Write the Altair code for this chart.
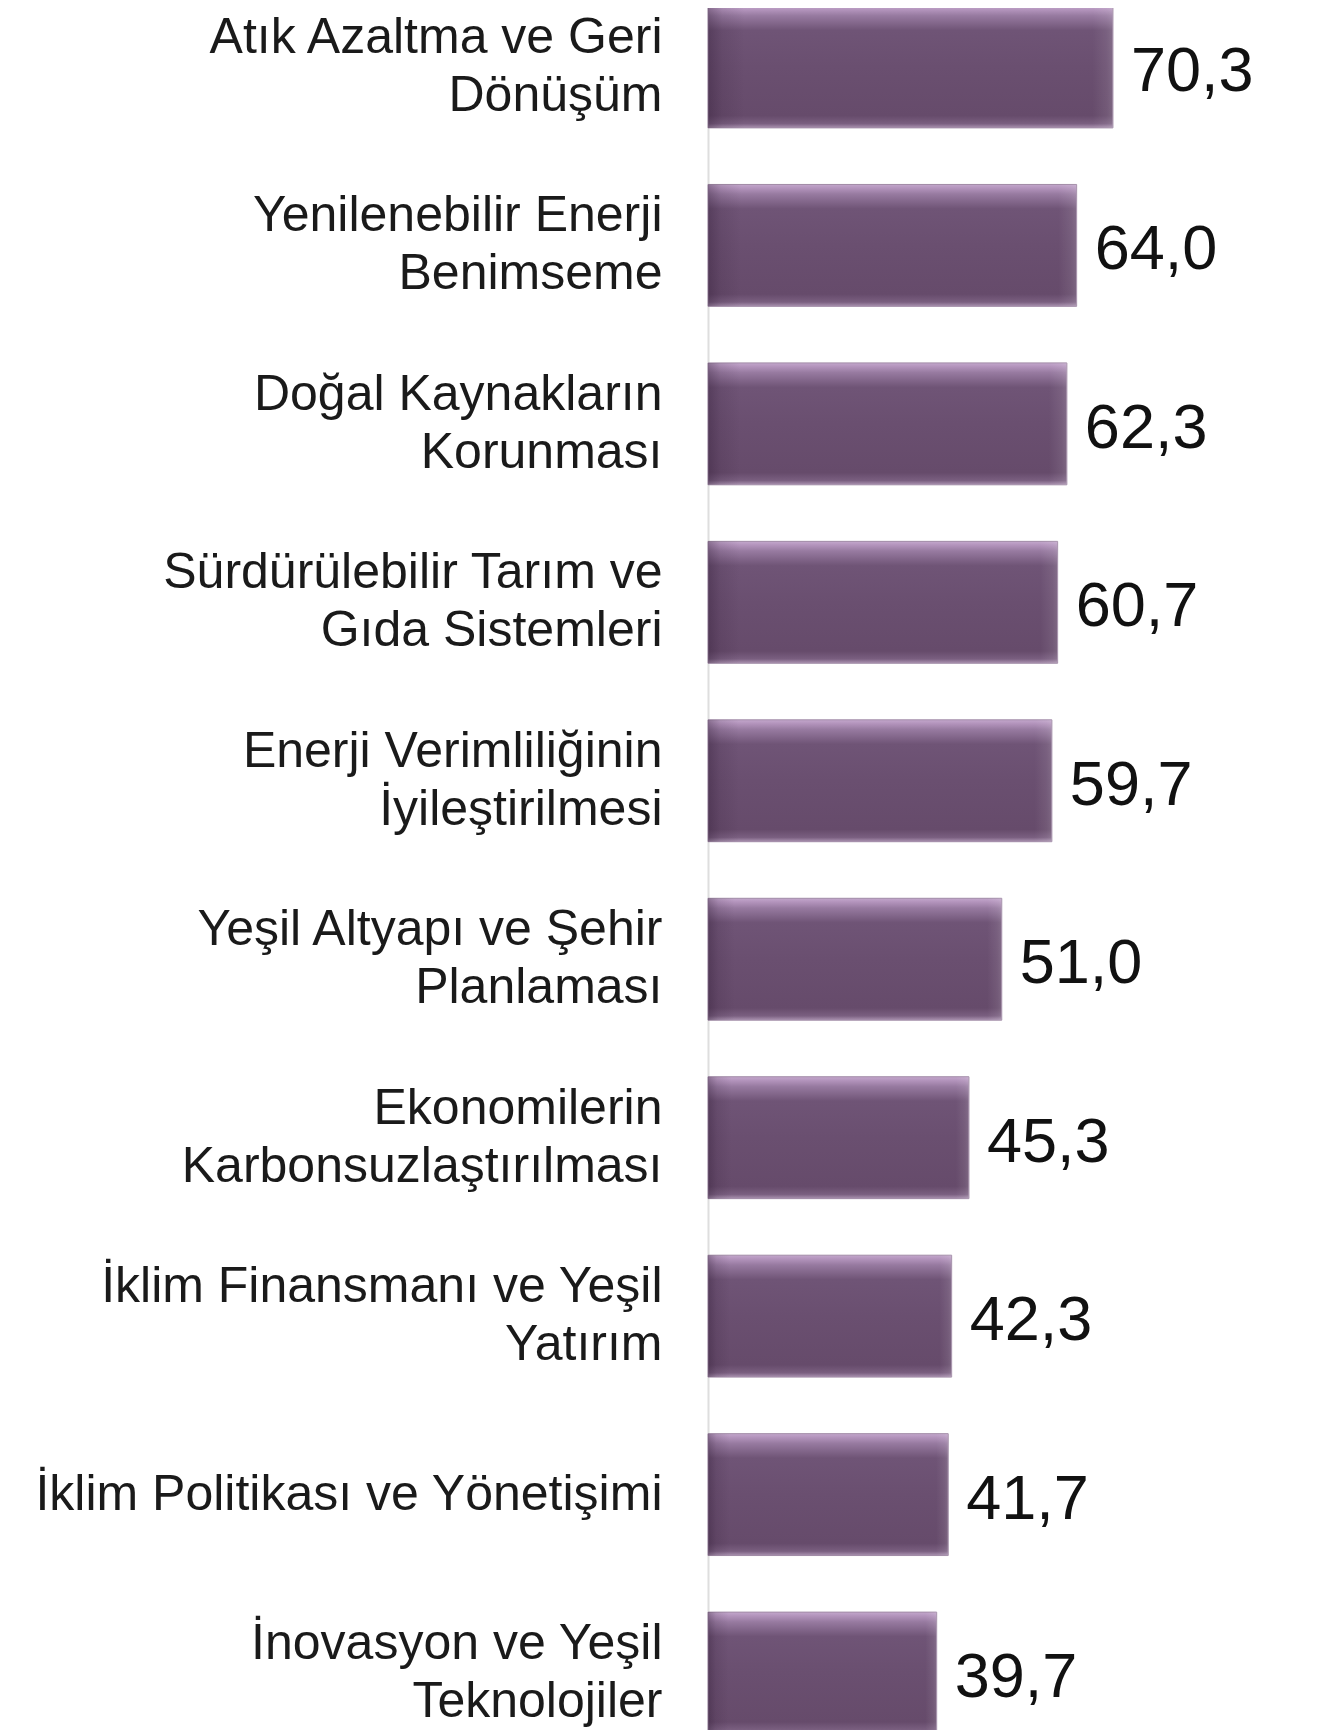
import altair as alt
import pandas as pd

categories = [
    "Atık Azaltma ve Geri|Dönüşüm",
    "Yenilenebilir Enerji|Benimseme",
    "Doğal Kaynakların|Korunması",
    "Sürdürülebilir Tarım ve|Gıda Sistemleri",
    "Enerji Verimliliğinin|İyileştirilmesi",
    "Yeşil Altyapı ve Şehir|Planlaması",
    "Ekonomilerin|Karbonsuzlaştırılması",
    "İklim Finansmanı ve Yeşil|Yatırım",
    "İklim Politikası ve Yönetişimi",
    "İnovasyon ve Yeşil|Teknolojiler",
]
values = [70.3, 64.0, 62.3, 60.7, 59.7, 51.0, 45.3, 42.3, 41.7, 39.7]

df = pd.DataFrame({"cat": categories, "value": values})

FONT = "Liberation Sans"

y_enc = alt.Y(
    "cat:N",
    sort=categories,
    title=None,
    scale=alt.Scale(paddingInner=0.317, paddingOuter=0),
    axis=alt.Axis(
        labelExpr="split(datum.value, '|')",
        labelFont=FONT,
        labelFontSize=50,
        labelLineHeight=58,
        labelColor="#1a1a1a",
        labelPadding=46,
        labelLimit=800,
        labelAlign="right",
        labelBaseline="middle",
        labelOffset={"condition": {"test": "indexof(datum.value, '|') >= 0", "value": -29}, "value": 0},
        ticks=False,
        domainColor="#dedede",
        domainWidth=2,
    ),
)
x_enc = alt.X("value:Q", scale=alt.Scale(domain=[0, 100]), axis=None)

grad_v = alt.Gradient(
    gradient="linear",
    x1=0, x2=0, y1=0, y2=1,
    stops=[
        alt.GradientStop(color="#c3a7cc", offset=0),
        alt.GradientStop(color="#b394bc", offset=0.03),
        alt.GradientStop(color="#977aa0", offset=0.08),
        alt.GradientStop(color="#6f5476", offset=0.2),
        alt.GradientStop(color="#6a4f70", offset=0.5),
        alt.GradientStop(color="#664b6b", offset=0.9),
        alt.GradientStop(color="#7a5f80", offset=0.965),
        alt.GradientStop(color="#ab93b1", offset=1),
    ],
)
grad_h = alt.Gradient(
    gradient="linear",
    x1=0, x2=1, y1=0, y2=0,
    stops=[
        alt.GradientStop(color="rgba(40,20,45,0.35)", offset=0),
        alt.GradientStop(color="rgba(40,20,45,0.12)", offset=0.035),
        alt.GradientStop(color="rgba(40,20,45,0)", offset=0.09),
        alt.GradientStop(color="rgba(255,255,255,0)", offset=0.95),
        alt.GradientStop(color="rgba(255,255,255,0.08)", offset=0.985),
        alt.GradientStop(color="rgba(255,255,255,0.15)", offset=1),
    ],
)

base = alt.Chart(df)

bars = base.mark_bar(color=grad_v, stroke="#a08aa6", strokeWidth=1, cornerRadius=0).encode(
    y=y_enc, x=x_enc
)
edges = base.mark_bar(color=grad_h).encode(y=y_enc, x=x_enc)

labels = base.transform_calculate(
    txt="replace(format(datum.value, '.1f'), '.', ',')"
).mark_text(
    align="left", baseline="middle", dx=18, dy=5, font=FONT, fontSize=63, color="#111111"
).encode(y=y_enc, x=x_enc, text="txt:N")

chart = (
    alt.layer(bars, edges, labels)
    .properties(
        width=576,
        height=1728,
        autosize="none",
        padding={"left": 700, "top": -2, "right": 0, "bottom": 0},
        background="white",
    )
    .configure_view(stroke=None)
)

chart.save("out.html", embed_options={"renderer": "svg", "actions": False})
